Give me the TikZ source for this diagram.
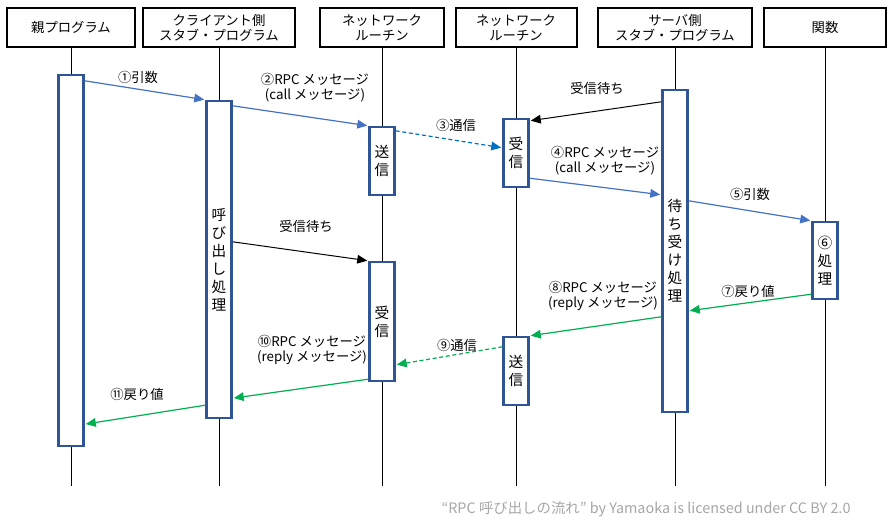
\documentclass[tikz,border=0pt]{standalone}
\usepackage{fontspec}
\setmainfont{Noto Sans CJK JP}
\usepackage{tikz}
\usetikzlibrary{arrows.meta,calc}
\definecolor{actblue}{RGB}{47,85,151}
\definecolor{msgblue}{RGB}{68,114,196}
\definecolor{netblue}{RGB}{0,112,192}
\definecolor{retgreen}{RGB}{0,176,80}
\definecolor{notegray}{RGB}{166,166,166}

\begin{document}
\begin{tikzpicture}[x=0.75pt,y=-0.75pt,>={Triangle[length=7.5pt,width=6.5pt]},shorten >=0.8pt,font=\fontsize{10}{11.25}\selectfont]
\tikzstyle{head}=[draw=black,line width=1.5pt,minimum height=29.25pt,align=center,inner sep=0pt]
\tikzstyle{act}=[draw=actblue,fill=white,line width=1.8pt,minimum width=18.75pt,align=center,inner sep=0pt,font=\fontsize{11}{13.5}\selectfont]
\tikzstyle{life}=[black,line width=0.75pt]
\tikzstyle{call}=[->,msgblue,line width=0.9pt]
\tikzstyle{wire}=[->,line width=0.9pt,dash pattern=on 3pt off 2pt]
\tikzstyle{wait}=[->,black,line width=0.75pt]
\tikzstyle{ret}=[->,retgreen,line width=0.9pt]
\tikzstyle{note}=[align=center,inner sep=0pt]
\useasboundingbox (0,0) rectangle (893,527);

\node[head,minimum width=96pt] (hp) at (71,27.5) {親プログラム};
\node[head,minimum width=114pt] (hc) at (219,27.5) {クライアント側\\スタブ・プログラム};
\node[head,minimum width=93pt] (hn) at (382,27.5) {ネットワーク\\ルーチン};
\node[head,minimum width=90.75pt] (hm) at (516,27.5) {ネットワーク\\ルーチン};
\node[head,minimum width=115.5pt] (hs) at (675,27.5) {サーバ側\\スタブ・プログラム};
\node[head,minimum width=91.5pt] (hf) at (825,27.5) {関数};

\coordinate (bottom) at (0,487);
\foreach \h in {hp,hc,hn,hm,hs,hf}
  \draw[life] (\h.south) -- (\h.south |- bottom);

\node[act,minimum height=278.25pt] (pa) at (71,260.5) {};
\node[act,minimum height=237.75pt] (cs) at (219,259.5) {呼\\び\\出\\し\\処\\理};
\node[act,minimum height=51pt] (ns1) at (382,161) {送\\信};
\node[act,minimum height=89.25pt] (nr1) at (382,321.5) {受\\信};
\node[act,minimum height=51pt] (nr2) at (516,153) {受\\信};
\node[act,minimum height=51pt] (ns2) at (516,371) {送\\信};
\node[act,minimum height=241.5pt] (sv) at (675,251) {待\\ち\\受\\け\\処\\理};
\node[act,minimum height=57.75pt] (fn) at (825,260.5) {⑥\\処\\理};

\draw[call] ($(pa.north east)+(0,7)$) -- (cs.north west);
\draw[call] ($(cs.north east)+(0,6)$) -- (ns1.north west);
\draw[wire,netblue] ($(ns1.north east)+(0,5)$) -- ($(nr2.north west)+(0,30)$);
\draw[wait] ($(sv.north west)+(0,13)$) -- ($(nr2.north east)+(0,3)$);
\draw[call] ($(nr2.south east)+(0,-10)$) -- ($(sv.north west)+(0,106)$);
\draw[call] ($(sv.north east)+(0,112)$) -- (fn.north west);
\draw[wait] ($(cs.north east)+(0,142)$) -- (nr1.north west);
\draw[ret] ($(fn.south west)+(0,-6)$) -- ($(sv.north east)+(0,222)$);
\draw[ret] ($(sv.north west)+(0,228)$) -- (ns2.north east);
\draw[wire,retgreen] ($(ns2.north west)+(0,11)$) -- ($(nr1.north east)+(0,104)$);
\draw[ret] ($(nr1.south west)+(0,-3)$) -- ($(cs.south east)+(0,-21)$);
\draw[ret] ($(cs.south west)+(0,-14)$) -- ($(pa.south east)+(0,-23)$);

\node[note] (l1) at (138,77) {①引数};
\node[note] (l2) at (315,87.5) {②RPC メッセージ\\(call メッセージ)};
\node[note] (l3) at (456,125) {③通信};
\node[note] (l4) at (597,88) {受信待ち};
\node[note] (l5) at (605,161) {④RPC メッセージ\\(call メッセージ)};
\node[note] (l6) at (750,194) {⑤引数};
\node[note] (l7) at (306,226) {受信待ち};
\node[note] (l8) at (748,291) {⑦戻り値};
\node[note] (l9) at (603,296) {⑧RPC メッセージ\\(reply メッセージ)};
\node[note] (l10) at (457,345) {⑨通信};
\node[note] (l11) at (312,350) {⑩RPC メッセージ\\(reply メッセージ)};
\node[note] (l12) at (137,394) {⑪戻り値};

\node[text=notegray,inner sep=0pt,font=\fontsize{10.8}{13}\selectfont] (credit) at (646,509) {“RPC 呼び出しの流れ" by Yamaoka is licensed under CC BY 2.0};
\end{tikzpicture}
\end{document}
